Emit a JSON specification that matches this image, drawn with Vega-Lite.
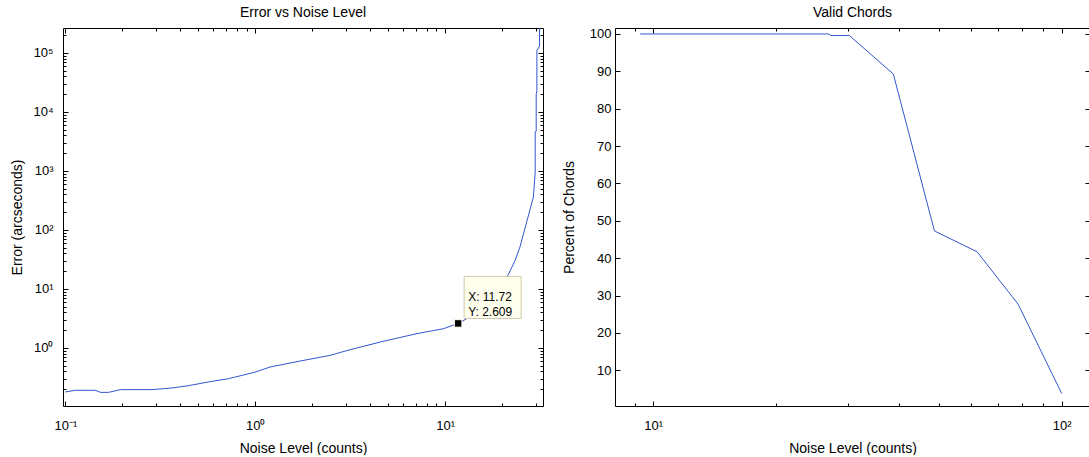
{
  "$schema": "https://vega.github.io/schema/vega-lite/v6.json",
  "padding": {"left": 10, "top": 5, "right": 0, "bottom": 0},
  "bounds": "flush",
  "spacing": 72,
  "datasets": {
    "err": [
      {"noise": 0.1, "err": 0.18},
      {"noise": 0.113, "err": 0.192},
      {"noise": 0.144, "err": 0.192},
      {"noise": 0.153, "err": 0.177},
      {"noise": 0.169, "err": 0.177},
      {"noise": 0.195, "err": 0.197},
      {"noise": 0.286, "err": 0.197},
      {"noise": 0.364, "err": 0.21},
      {"noise": 0.446, "err": 0.23},
      {"noise": 0.568, "err": 0.266},
      {"noise": 0.724, "err": 0.302},
      {"noise": 1.0, "err": 0.39},
      {"noise": 1.2, "err": 0.477},
      {"noise": 1.72, "err": 0.6},
      {"noise": 2.48, "err": 0.75},
      {"noise": 3.16, "err": 0.936},
      {"noise": 4.73, "err": 1.3},
      {"noise": 7.1, "err": 1.75},
      {"noise": 9.8, "err": 2.12},
      {"noise": 11.72, "err": 2.609},
      {"noise": 13.0, "err": 3.13},
      {"noise": 21.5, "err": 17.3},
      {"noise": 23.4, "err": 30.6},
      {"noise": 24.8, "err": 51.5},
      {"noise": 29.2, "err": 362},
      {"noise": 29.84, "err": 960},
      {"noise": 29.84, "err": 4600},
      {"noise": 30.2, "err": 4700},
      {"noise": 30.2, "err": 20000},
      {"noise": 30.46, "err": 23000},
      {"noise": 30.46, "err": 110000},
      {"noise": 31.44, "err": 130000},
      {"noise": 31.44, "err": 264000}
    ],
    "tip": [
      {"noise": 11.72, "err": 2.609, "label": "X: 11.72\nY: 2.609"}
    ],
    "chords": [
      {"noise": 9.29, "pct": 100},
      {"noise": 26.9, "pct": 100},
      {"noise": 27.2, "pct": 99.6},
      {"noise": 30.2, "pct": 99.6},
      {"noise": 38.7, "pct": 89.3},
      {"noise": 48.8, "pct": 47.3},
      {"noise": 62.1, "pct": 41.7},
      {"noise": 78.2, "pct": 27.7},
      {"noise": 100, "pct": 3.8}
    ]
  },
  "hconcat": [
    {
      "width": 480,
      "height": 378,
      "title": {"text": "Error vs Noise Level"},
      "data": {"name": "err"},
      "layer": [
        {
          "mark": {"type": "line", "color": "#3355cc", "strokeWidth": 1, "clip": true},
          "encoding": {
            "x": {"field": "noise", "type": "quantitative",
                  "scale": {"type": "log", "domain": [0.0972, 32.8], "nice": false},
                  "axis": {"orient": "bottom", "values": [0.1, 1, 10], "tickSize": -5, "labelPadding": 18,
                           "labelExpr": "datum.value < 0.5 ? '10⁻¹' : datum.value < 5 ? '10⁰' : '10¹'",
                           "title": "Noise Level (counts)", "titlePadding": 9}},
            "y": {"field": "err", "type": "quantitative",
                  "scale": {"type": "log", "domain": [0.104, 265000], "nice": false},
                  "axis": {"orient": "left", "values": [1, 10, 100, 1000, 10000, 100000], "tickSize": -5, "labelPadding": 15,
                           "labelExpr": "'10' + ['⁰','¹','²','³','⁴','⁵'][round(log(datum.value)/LN10)]",
                           "title": "Error (arcseconds)", "titlePadding": 8}}
          }
        },
        {
          "mark": {"type": "line", "opacity": 0},
          "encoding": {
            "x": {"field": "noise", "type": "quantitative",
                  "scale": {"type": "log", "domain": [0.0972, 32.8], "nice": false},
                  "axis": {"orient": "bottom", "values": [0.2, 0.3, 0.4, 0.5, 0.6, 0.7, 0.8, 0.9, 2, 3, 4, 5, 6, 7, 8, 9, 20, 30],
                           "tickSize": -3, "labels": false, "domain": false, "title": null}},
            "y": {"field": "err", "type": "quantitative",
                  "scale": {"type": "log", "domain": [0.104, 265000], "nice": false},
                  "axis": {"orient": "left", "values": [0.2, 0.3, 0.4, 0.5, 0.6, 0.7, 0.8, 0.9, 2, 3, 4, 5, 6, 7, 8, 9, 20, 30, 40, 50, 60, 70, 80, 90, 200, 300, 400, 500, 600, 700, 800, 900, 2000, 3000, 4000, 5000, 6000, 7000, 8000, 9000, 20000, 30000, 40000, 50000, 60000, 70000, 80000, 90000, 200000],
                           "tickSize": -3, "labels": false, "domain": false, "title": null}}
          }
        },
        {
          "mark": {"type": "line", "opacity": 0},
          "encoding": {
            "x": {"field": "noise", "type": "quantitative",
                  "scale": {"type": "log", "domain": [0.0972, 32.8], "nice": false},
                  "axis": {"orient": "top", "values": [0.1, 1, 10], "tickSize": -5, "labels": false, "title": null}},
            "y": {"field": "err", "type": "quantitative",
                  "scale": {"type": "log", "domain": [0.104, 265000], "nice": false},
                  "axis": {"orient": "right", "values": [1, 10, 100, 1000, 10000, 100000], "tickSize": -5, "labels": false, "title": null}}
          }
        },
        {
          "mark": {"type": "line", "opacity": 0},
          "encoding": {
            "x": {"field": "noise", "type": "quantitative",
                  "scale": {"type": "log", "domain": [0.0972, 32.8], "nice": false},
                  "axis": {"orient": "top", "values": [0.2, 0.3, 0.4, 0.5, 0.6, 0.7, 0.8, 0.9, 2, 3, 4, 5, 6, 7, 8, 9, 20, 30],
                           "tickSize": -3, "labels": false, "domain": false, "title": null}},
            "y": {"field": "err", "type": "quantitative",
                  "scale": {"type": "log", "domain": [0.104, 265000], "nice": false},
                  "axis": {"orient": "right", "values": [0.2, 0.3, 0.4, 0.5, 0.6, 0.7, 0.8, 0.9, 2, 3, 4, 5, 6, 7, 8, 9, 20, 30, 40, 50, 60, 70, 80, 90, 200, 300, 400, 500, 600, 700, 800, 900, 2000, 3000, 4000, 5000, 6000, 7000, 8000, 9000, 20000, 30000, 40000, 50000, 60000, 70000, 80000, 90000, 200000],
                           "tickSize": -3, "labels": false, "domain": false, "title": null}}
          }
        },
        {
          "data": {"name": "tip"},
          "mark": {"type": "rect", "fill": "#ffffee", "stroke": "#cfc9a8", "strokeWidth": 1,
                   "xOffset": 6, "x2Offset": 63, "yOffset": -47, "y2Offset": -5},
          "encoding": {
            "x": {"field": "noise", "type": "quantitative", "scale": {"type": "log", "domain": [0.0972, 32.8], "nice": false}, "axis": null},
            "x2": {"field": "noise"},
            "y": {"field": "err", "type": "quantitative", "scale": {"type": "log", "domain": [0.104, 265000], "nice": false}, "axis": null},
            "y2": {"field": "err"}
          }
        },
        {
          "data": {"name": "tip"},
          "mark": {"type": "square", "filled": true, "fill": "#000000", "size": 56, "stroke": "#fffff0", "strokeWidth": 1, "opacity": 1},
          "encoding": {
            "x": {"field": "noise", "type": "quantitative", "scale": {"type": "log", "domain": [0.0972, 32.8], "nice": false}, "axis": null},
            "y": {"field": "err", "type": "quantitative", "scale": {"type": "log", "domain": [0.104, 265000], "nice": false}, "axis": null}
          }
        },
        {
          "data": {"name": "tip"},
          "mark": {"type": "text", "align": "left", "baseline": "middle", "dx": 10, "dy": -26, "lineBreak": "\n", "lineHeight": 14.6,
                   "fontSize": 12, "font": "Liberation Sans", "color": "#000000"},
          "encoding": {
            "x": {"field": "noise", "type": "quantitative", "scale": {"type": "log", "domain": [0.0972, 32.8], "nice": false}, "axis": null},
            "y": {"field": "err", "type": "quantitative", "scale": {"type": "log", "domain": [0.104, 265000], "nice": false}, "axis": null},
            "text": {"field": "label"}
          }
        }
      ],
      "resolve": {"axis": {"x": "independent", "y": "independent"}}
    },
    {
      "width": 475,
      "height": 378,
      "title": {"text": "Valid Chords"},
      "data": {"name": "chords"},
      "layer": [
        {
          "mark": {"type": "line", "color": "#3355cc", "strokeWidth": 1, "clip": true},
          "encoding": {
            "x": {"field": "noise", "type": "quantitative",
                  "scale": {"type": "log", "domain": [8.06, 117.3], "nice": false},
                  "axis": {"orient": "bottom", "values": [10, 100], "tickSize": -5, "labelPadding": 18,
                           "labelExpr": "datum.value < 50 ? '10¹' : '10²'",
                           "title": "Noise Level (counts)", "titlePadding": 9}},
            "y": {"field": "pct", "type": "quantitative",
                  "scale": {"type": "linear", "domain": [0.45, 101.6], "nice": false, "zero": false},
                  "axis": {"orient": "left", "values": [10, 20, 30, 40, 50, 60, 70, 80, 90, 100], "tickSize": -5, "labelPadding": 9,
                           "title": "Percent of Chords", "titlePadding": 13}}
          }
        },
        {
          "mark": {"type": "line", "opacity": 0},
          "encoding": {
            "x": {"field": "noise", "type": "quantitative",
                  "scale": {"type": "log", "domain": [8.06, 117.3], "nice": false},
                  "axis": {"orient": "bottom", "values": [9, 20, 30, 40, 50, 60, 70, 80, 90], "tickSize": -3, "labels": false, "domain": false, "title": null}},
            "y": {"field": "pct", "type": "quantitative",
                  "scale": {"type": "linear", "domain": [0.45, 101.6], "nice": false, "zero": false}, "axis": null}
          }
        },
        {
          "mark": {"type": "line", "opacity": 0},
          "encoding": {
            "x": {"field": "noise", "type": "quantitative",
                  "scale": {"type": "log", "domain": [8.06, 117.3], "nice": false},
                  "axis": {"orient": "top", "values": [10, 100], "tickSize": -5, "labels": false, "title": null}},
            "y": {"field": "pct", "type": "quantitative",
                  "scale": {"type": "linear", "domain": [0.45, 101.6], "nice": false, "zero": false},
                  "axis": {"orient": "right", "values": [10, 20, 30, 40, 50, 60, 70, 80, 90, 100], "tickSize": -5, "labels": false, "domain": false, "title": null}}
          }
        },
        {
          "mark": {"type": "line", "opacity": 0},
          "encoding": {
            "x": {"field": "noise", "type": "quantitative",
                  "scale": {"type": "log", "domain": [8.06, 117.3], "nice": false},
                  "axis": {"orient": "top", "values": [9, 20, 30, 40, 50, 60, 70, 80, 90], "tickSize": -3, "labels": false, "domain": false, "title": null}},
            "y": {"field": "pct", "type": "quantitative",
                  "scale": {"type": "linear", "domain": [0.45, 101.6], "nice": false, "zero": false}, "axis": null}
          }
        }
      ],
      "resolve": {"axis": {"x": "independent", "y": "independent"}}
    }
  ],
  "config": {
    "view": {"stroke": null},
    "font": "Liberation Sans",
    "axis": {
      "grid": false, "domainColor": "#000000", "tickColor": "#000000", "labelColor": "#000000", "titleColor": "#000000",
      "labelFont": "Liberation Sans", "titleFont": "Liberation Sans", "labelFontSize": 13, "titleFontSize": 14,
      "titleFontWeight": "normal", "tickWidth": 1, "domainWidth": 1
    },
    "title": {"font": "Liberation Sans", "fontSize": 14, "fontWeight": "normal", "color": "#000000", "anchor": "middle", "frame": "group", "offset": 8}
  }
}
